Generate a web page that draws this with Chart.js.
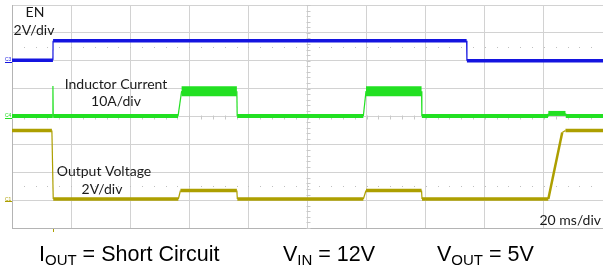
<!DOCTYPE html>
<html><head><meta charset="utf-8">
<script src="https://cdn.jsdelivr.net/npm/chart.js@4.4.1/dist/chart.umd.min.js"></script>
<style>html,body{margin:0;padding:0;background:#fff}canvas{display:block}</style>
</head><body>
<canvas id="c" width="603" height="269"></canvas>
<script>
// ---- time base: 20 ms/div, 10 divisions ----
const timeRangeMs = [0, 200];
const timeStepMs = 20;
const verticalDivs = [0, 8];

// ---- EN (C3), 2 V/div ----
const enTimeMs = [0, 13.85, 13.9, 153.85, 153.95, 200];
const enVolts  = [0.04, 0.04, 1.44, 1.44, 0.0, 0.0];

// ---- Inductor current (C4), 10 A/div ----
const ilTimeMs = [0, 13.8, 13.85, 13.95, 56.2, 57.4, 76.1, 76.2, 118.9, 119.8, 138.6, 138.7, 181.4, 181.5, 187.3, 187.4, 200];
const ilAmps   = [0.2, 0.2, 10.9, 0.2, 0.2, 9.1, 9.1, 0.2, 0.2, 9.1, 9.1, 0.2, 0.2, 1.1, 1.1, 0.2, 0.2];

// ---- Output voltage (C1), 2 V/div ----
const voTimeMs = [0, 13.5, 13.95, 56.3, 57.0, 76.1, 76.25, 118.9, 119.8, 138.6, 138.75, 181.5, 186.2, 187.3, 200];
const voVolts  = [5.0, 5.0, 0.08, 0.08, 0.69, 0.69, 0.08, 0.08, 0.69, 0.69, 0.08, 0.08, 4.85, 5.0, 5.0];

// channel setup
const channelNames = ['EN', 'Inductor Current', 'Output Voltage'];
const channelMarkers = ['C3', 'C4', 'C1'];
const unitsPerDiv = [2, 10, 2];
const groundDiv = [6, 4, 1];
const colors = ['#1414e0', '#22e022', '#ad9f00'];

function toPoints(times, vals, ch){
  return times.map((t,i)=>({x:t, y: groundDiv[ch] + vals[i]/unitsPerDiv[ch]}));
}
function segWidth(base){
  return ctx => {
    const a = ctx.p0.parsed, b = ctx.p1.parsed;
    if (Math.abs(a.y - b.y) > 1e-6) return 1.2;
    return base(a.y);
  };
}

const scopeDecor = {
  id:'scopeDecor',
  beforeDatasetsDraw(chart){
    const {ctx, scales:{x,y}} = chart;
    ctx.save();
    ctx.strokeStyle = '#c8c8c8'; ctx.lineWidth = 1;
    const cx = Math.round(x.getPixelForValue((timeRangeMs[0]+timeRangeMs[1])/2)) + 0.5;
    const cy = Math.round(y.getPixelForValue((verticalDivs[0]+verticalDivs[1])/2)) + 0.5;
    for (let t = timeRangeMs[0]; t <= timeRangeMs[1]+1e-6; t += timeStepMs/5){
      const px = Math.round(x.getPixelForValue(t)) + 0.5;
      ctx.beginPath(); ctx.moveTo(px, cy-2); ctx.lineTo(px, cy+2); ctx.stroke();
    }
    for (let d = verticalDivs[0]; d <= verticalDivs[1]+1e-6; d += 0.2){
      const py = Math.round(y.getPixelForValue(d)) + 0.5;
      ctx.beginPath(); ctx.moveTo(cx-2, py); ctx.lineTo(cx+2, py); ctx.stroke();
    }
    ctx.fillStyle = '#c0c0c0';
    for (const lvl of [6.5, 1.5]){
      const py = Math.round(y.getPixelForValue(lvl));
      for (let t = timeStepMs/5; t < timeRangeMs[1]; t += timeStepMs/5){
        const px = Math.round(x.getPixelForValue(t));
        ctx.fillRect(px, py, 1, 1);
      }
    }
    ctx.font = '5px "Liberation Sans"';
    ctx.textBaseline = 'middle';
    for (let ch = 0; ch < 3; ch++){
      const py = y.getPixelForValue(groundDiv[ch]) - 1;
      ctx.fillStyle = colors[ch];
      ctx.fillText(channelMarkers[ch], 5, py);
      ctx.fillRect(5, Math.round(py)+2, 7, 1);
    }
    const tx = Math.round(x.getPixelForValue(enTimeMs[1]));
    ctx.fillStyle = colors[2];
    ctx.fillRect(tx, Math.round(y.getPixelForValue(0))+1, 1, 3);
    ctx.restore();
  },
  afterDraw(chart){
    const {ctx} = chart;
    ctx.save();
    ctx.fillStyle = '#1a1a1a';
    ctx.textAlign = 'center';
    ctx.textBaseline = 'alphabetic';
    ctx.font = '14px Lato';
    ctx.fillText('EN', 35, 17);
    ctx.fillText('2V/div', 34, 35);
    ctx.fillText('Inductor Current', 116, 89);
    ctx.fillText('10A/div', 116, 106);
    ctx.fillText('Output Voltage', 104, 176);
    ctx.fillText('2V/div', 102, 194);
    ctx.textAlign = 'right';
    ctx.fillText('20 ms/div', 601, 225);
    ctx.textAlign = 'left';
    ctx.fillStyle = '#000';
    const big = '21.5px "Liberation Sans"', small = '15px "Liberation Sans"';
    function sub(x0, main, subs, rest){
      ctx.font = big; ctx.fillText(main, x0, 260.5);
      let xx = x0 + ctx.measureText(main).width;
      ctx.font = small; ctx.fillText(subs, xx, 265);
      xx += ctx.measureText(subs).width;
      ctx.font = big; ctx.fillText(rest, xx, 260.5);
    }
    sub(39, 'I', 'OUT', ' = Short Circuit');
    sub(283, 'V', 'IN', ' = 12V');
    sub(437, 'V', 'OUT', ' = 5V');
    ctx.restore();
  }
};

const datasets = [
  {label: channelNames[0], data: toPoints(enTimeMs, enVolts, 0), borderColor: colors[0],
   segment:{borderWidth: segWidth(()=>3.6)}},
  {label: channelNames[1], data: toPoints(ilTimeMs, ilAmps, 1), borderColor: colors[1],
   segment:{borderWidth: segWidth(v => (v - groundDiv[1]) > 0.5 ? 10 : ((v - groundDiv[1]) > 0.05 ? 5 : 4))}},
  {label: channelNames[2], data: toPoints(voTimeMs, voVolts, 2), borderColor: colors[2],
   segment:{borderWidth: ctx => {
     const a = ctx.p0.parsed, b = ctx.p1.parsed;
     if (Math.abs(a.y-b.y) > 1e-6) return (b.x - a.x) > 2 ? 2.5 : 1.2;
     return 3.6;
   }}}
].map(d => Object.assign({borderWidth:4, pointRadius:0, tension:0, fill:false, borderCapStyle:'butt', borderJoinStyle:'miter'}, d));

new Chart(document.getElementById('c'), {
  type:'line',
  data:{datasets},
  options:{
    responsive:false, animation:false, devicePixelRatio:1,
    layout:{padding:{left:12, top:5, right:0, bottom:41}},
    plugins:{legend:{display:false}, tooltip:{enabled:false}},
    scales:{
      x:{type:'linear', min:timeRangeMs[0], max:timeRangeMs[1],
         ticks:{display:false, stepSize:timeStepMs},
         grid:{color:'#d2d2d2', drawTicks:false}, border:{color:'#b4b4b4'}},
      y:{type:'linear', min:verticalDivs[0], max:verticalDivs[1],
         ticks:{display:false, stepSize:1},
         grid:{color:'#d2d2d2', drawTicks:false}, border:{color:'#b4b4b4'}}
    }
  },
  plugins:[scopeDecor]
});
</script>
</body></html>
